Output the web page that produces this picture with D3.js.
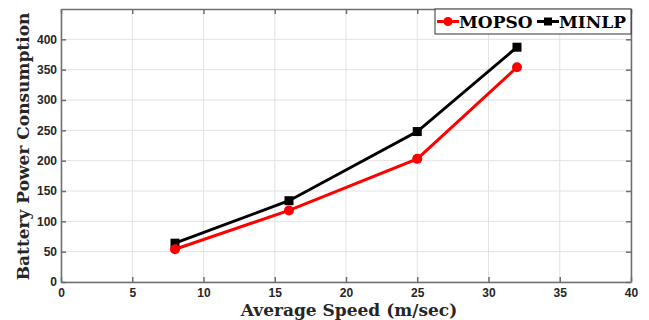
<!DOCTYPE html>
<html>
<head>
<meta charset="utf-8">
<script src="https://cdn.jsdelivr.net/npm/d3@7"></script>
<style>
  body { margin: 0; background: #fff; }
  svg { display: block; }
</style>
</head>
<body>
<div id="chart"></div>
<script>
// values
var speeds = [8, 16, 25, 32];
var mopso = [54, 118, 203, 354];
var minlp = [64, 134, 248, 387];
var xTicks = [0, 5, 10, 15, 20, 25, 30, 35, 40];
var yTicks = [0, 50, 100, 150, 200, 250, 300, 350, 400];

var W = 649, H = 320;
var margin = { top: 9, right: 18, bottom: 38, left: 61 },
    width = W - margin.left - margin.right,
    height = H - margin.top - margin.bottom;

var svg = d3.select("#chart").append("svg")
    .attr("width", W)
    .attr("height", H);

var g = svg.append("g")
    .attr("transform", "translate(" + margin.left + "," + margin.top + ")");

var x = d3.scaleLinear().domain([0, 40]).range([0, width]);
var y = d3.scaleLinear().domain([0, 450]).range([height, 0]);

// grid
g.append("g").selectAll("line").data(xTicks).enter().append("line")
    .attr("x1", x).attr("x2", x).attr("y1", 0).attr("y2", height)
    .style("stroke", "#e3e3e3").style("stroke-width", 1);
g.append("g").selectAll("line").data(yTicks).enter().append("line")
    .attr("y1", y).attr("y2", y).attr("x1", 0).attr("x2", width)
    .style("stroke", "#e3e3e3").style("stroke-width", 1);

// axes (matlab style: ticks inside, box on)
var axisColor = "#6e6e6e";
g.append("g")
    .attr("transform", "translate(0," + height + ")")
    .call(d3.axisBottom(x).tickValues(xTicks).tickSizeInner(-5).tickSizeOuter(0).tickPadding(6));
g.append("g")
    .call(d3.axisLeft(y).tickValues(yTicks).tickSizeInner(-5).tickSizeOuter(0).tickPadding(4));
g.append("g")
    .call(d3.axisTop(x).tickValues(xTicks).tickSizeInner(-5).tickSizeOuter(0).tickFormat(""));
g.append("g")
    .attr("transform", "translate(" + width + ",0)")
    .call(d3.axisRight(y).tickValues(yTicks).tickSizeInner(-5).tickSizeOuter(0).tickFormat(""));

g.selectAll(".domain, .tick line")
    .style("stroke", axisColor).style("stroke-width", 1.5);
g.selectAll(".tick text")
    .style("font-family", "'Liberation Sans', Arial, sans-serif")
    .style("font-weight", "bold")
    .style("font-size", "12px")
    .style("fill", "#262626");

// lines
var line = d3.line()
    .x(function(d) { return x(d[0]); })
    .y(function(d) { return y(d[1]); });

var mopsoPts = speeds.map(function(s, i) { return [s, mopso[i]]; });
var minlpPts = speeds.map(function(s, i) { return [s, minlp[i]]; });

g.append("path").datum(minlpPts)
    .attr("d", line)
    .style("fill", "none").style("stroke", "#000").style("stroke-width", 3);
g.append("path").datum(mopsoPts)
    .attr("d", line)
    .style("fill", "none").style("stroke", "#ff0000").style("stroke-width", 3);

g.selectAll(".sq").data(minlpPts).enter().append("rect")
    .attr("x", function(d) { return x(d[0]) - 4.5; })
    .attr("y", function(d) { return y(d[1]) - 4.5; })
    .attr("width", 9).attr("height", 9)
    .style("fill", "#000");
g.selectAll(".dot").data(mopsoPts).enter().append("circle")
    .attr("cx", function(d) { return x(d[0]); })
    .attr("cy", function(d) { return y(d[1]); })
    .attr("r", 5)
    .style("fill", "#ff0000");

// axis labels
var serif = "'DejaVu Serif', 'Liberation Serif', serif";
svg.append("text")
    .attr("x", margin.left + width / 2 + 3)
    .attr("y", 316)
    .attr("text-anchor", "middle")
    .style("font-family", serif).style("font-weight", "bold")
    .style("font-size", "17px").style("fill", "#262626")
    .text("Average Speed (m/sec)");
svg.append("text")
    .attr("transform", "translate(29," + (margin.top + height / 2 + 1) + ") rotate(-90)")
    .attr("text-anchor", "middle")
    .style("font-family", serif).style("font-weight", "bold")
    .style("font-size", "17px").style("fill", "#262626")
    .text("Battery Power Consumption");

// legend
var lg = svg.append("g").attr("transform", "translate(435,9)");
lg.append("rect")
    .attr("width", 196).attr("height", 25)
    .style("fill", "#fff").style("stroke", "#333").style("stroke-width", 1);
var items = [
  { name: "MOPSO", color: "#ff0000", shape: "circle", x: 2 },
  { name: "MINLP", color: "#000", shape: "square", x: 102 }
];
items.forEach(function(it) {
  var li = lg.append("g").attr("transform", "translate(" + it.x + ",12.5)");
  li.append("line").attr("x1", 0).attr("x2", 22).attr("y1", 0).attr("y2", 0)
    .style("stroke", it.color).style("stroke-width", 3);
  if (it.shape === "circle") {
    li.append("circle").attr("cx", 11).attr("cy", 0).attr("r", 4.5).style("fill", it.color);
  } else {
    li.append("rect").attr("x", 7).attr("y", -4).attr("width", 8).attr("height", 8).style("fill", it.color);
  }
  li.append("text").attr("x", 22).attr("y", 6.5)
    .style("font-family", serif).style("font-weight", "bold")
    .style("font-size", "17px").style("fill", "#000")
    .text(it.name);
});
</script>
</body>
</html>
